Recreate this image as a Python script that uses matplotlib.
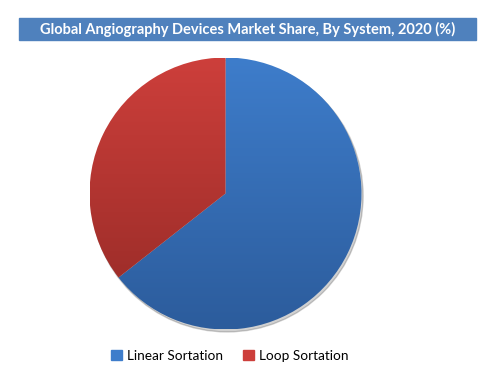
import numpy as np
import matplotlib.pyplot as plt
from matplotlib.colors import LinearSegmentedColormap
from matplotlib.patches import Rectangle

labels = ["Linear Sortation", "Loop Sortation"]
shares = [64.4, 35.6]
top_colors = ["#3e7dcb", "#cd3f3b"]
bottom_colors = ["#2c5c9c", "#952a26"]

plt.rcParams['font.family'] = ['Lato', 'DejaVu Sans']

fig = plt.figure(figsize=(4.92, 3.84), dpi=100)

# title banner
fig.patches.append(Rectangle((19 / 492, 1 - 40 / 384), 457 / 492, 22 / 384,
                             transform=fig.transFigure, color="#4f81bd", zorder=0))
fig.text(247.5 / 492, 1 - 29 / 384, "Global Angiography Devices Market Share, By System, 2020 (%)",
         ha="center", va="center", color="white", fontsize=10.5, fontweight="bold")

ax = fig.add_axes([(225.5 - 136) / 492, 1 - (193.5 + 136) / 384, 272 / 492, 272 / 384])
wedges, _ = ax.pie(shares, startangle=90, counterclock=False, radius=1,
                   colors=top_colors, wedgeprops=dict(linewidth=0))

# soft shadow
shadow = plt.Circle((0.012, -0.018), 1.0, color="#000000", alpha=0.18, zorder=0,
                    clip_on=False)
ax.add_patch(shadow)

# top row of the image is the top of the pie -> lighter colour
yy = np.linspace(-1, 1, 256).reshape(-1, 1)
for w, c1, c2 in zip(wedges, top_colors, bottom_colors):
    cmap = LinearSegmentedColormap.from_list("g", [c1, c2])
    im = ax.imshow(yy, cmap=cmap, extent=[-1, 1, -1, 1], aspect="auto", zorder=2,
                   vmin=-1, vmax=1)
    im.set_clip_path(w)
    w.set_facecolor("none")

ax.set_xlim(-1.0, 1.0)
ax.set_ylim(-1.0, 1.0)
ax.set_aspect("equal")
ax.axis("off")

handles = [Rectangle((0, 0), 1, 1, color=c) for c in top_colors]
fig.legend(handles, labels, loc="center", bbox_to_anchor=(230 / 492, 1 - 356 / 384),
           ncol=2, frameon=False, fontsize=9.8, handlelength=0.75, handleheight=0.75,
           handletextpad=0.4, columnspacing=1.5)

fig.savefig("out.png", dpi=100)
